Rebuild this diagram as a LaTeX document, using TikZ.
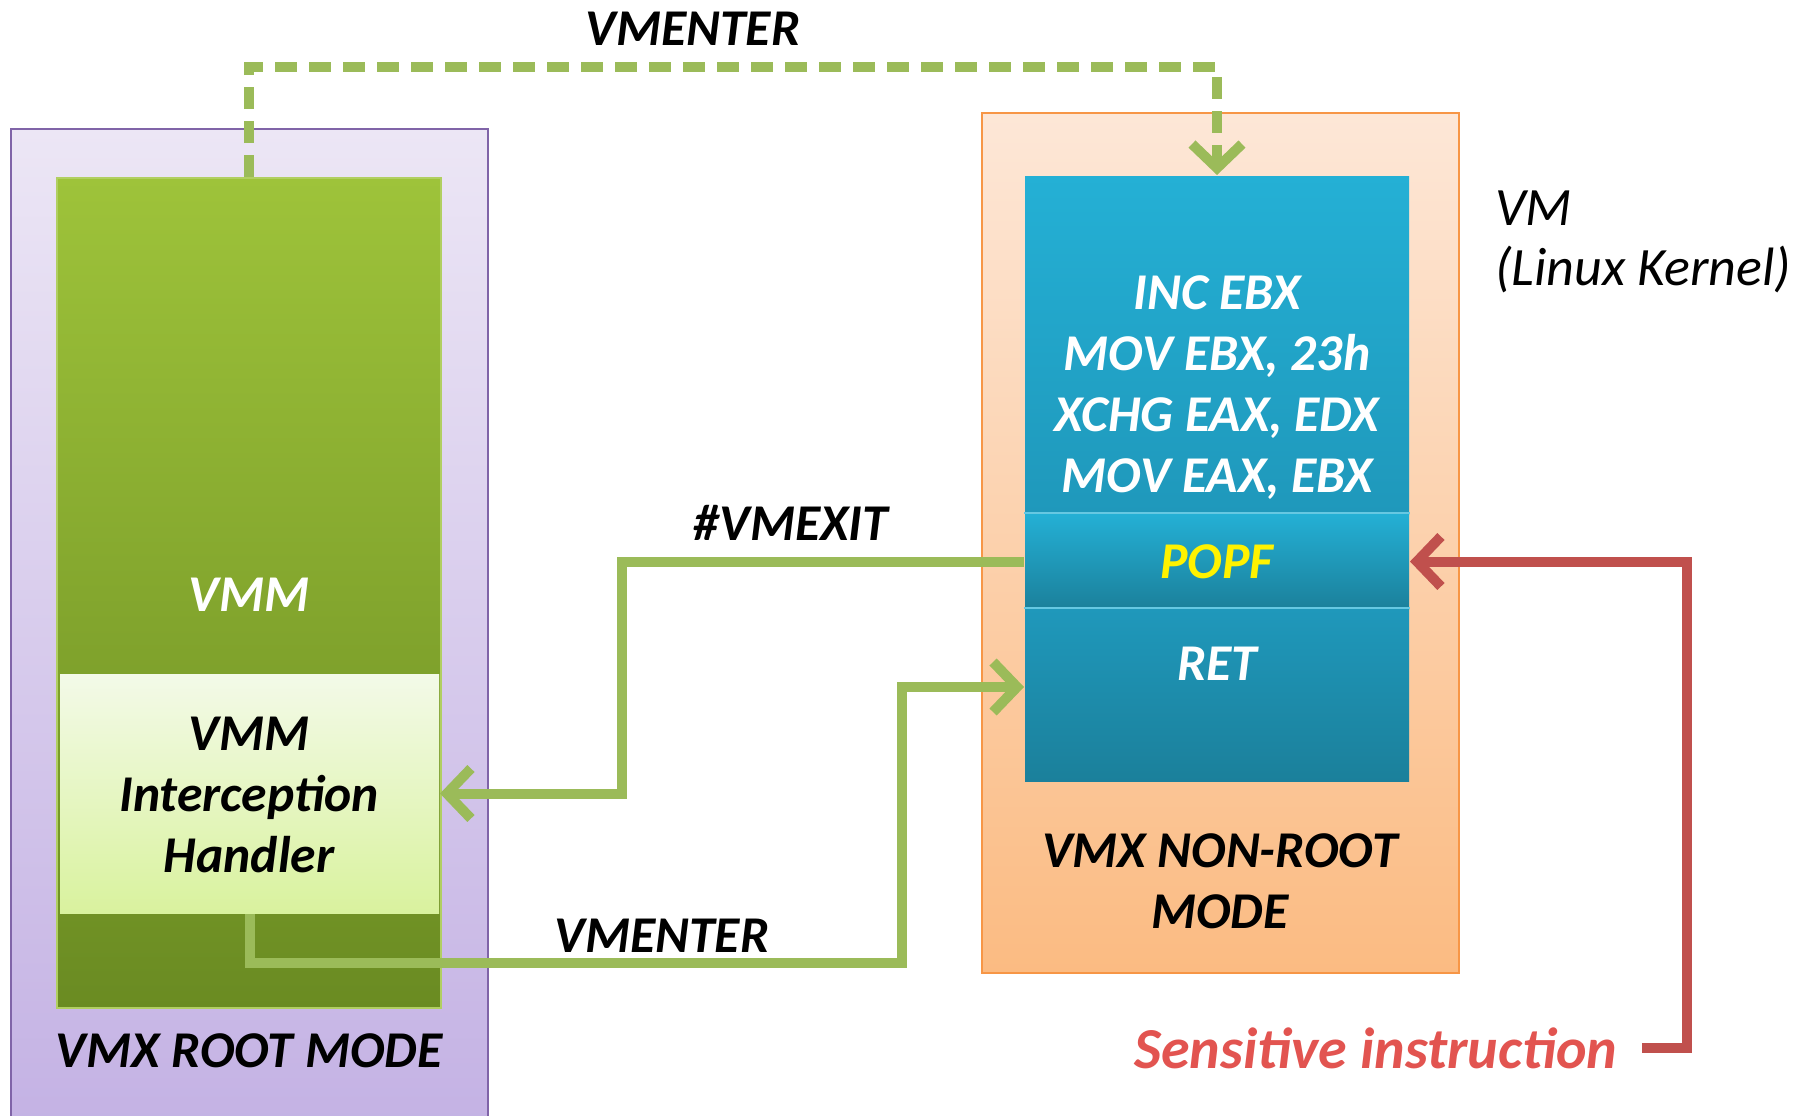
\documentclass[tikz,border=0pt]{standalone}
\usepackage{fontspec}
\setmainfont{Carlito}
\usetikzlibrary{arrows.meta,positioning,fit,calc}
\definecolor{roottop}{RGB}{236,230,245}
\definecolor{rootbot}{RGB}{196,178,228}
\definecolor{rootline}{RGB}{128,100,168}
\definecolor{vmmtop}{RGB}{158,195,58}
\definecolor{vmmbot}{RGB}{106,139,34}
\definecolor{hndtop}{RGB}{243,250,232}
\definecolor{hndbot}{RGB}{217,242,158}
\definecolor{vmtop}{RGB}{253,231,215}
\definecolor{vmbot}{RGB}{251,187,130}
\definecolor{vmline}{RGB}{247,150,70}
\definecolor{cpulight}{RGB}{36,176,213}
\definecolor{cpumid}{RGB}{31,152,187}
\definecolor{cpudark}{RGB}{27,128,155}
\definecolor{flow}{RGB}{155,187,89}
\definecolor{trap}{RGB}{192,80,77}
\definecolor{sens}{RGB}{226,84,80}

\begin{document}
\begin{tikzpicture}[x=0.5pt, y=-0.5pt, >={Straight Barb[length=12pt,width=25pt]},
  box/.style={draw, inner sep=0pt, line width=1pt},
  lbl/.style={font=\fontsize{25.8}{30.5}\selectfont\bfseries\itshape, align=center},
  flowline/.style={->, flow, line width=5pt, line join=miter}]
\useasboundingbox (0,0) rectangle (1802,1115);

% mode frames
\node(root)[box, draw=rootline, top color=roottop, bottom color=rootbot, fit={(11,129) (488,1125)}]{};
\node(nonroot)[box, draw=vmline, top color=vmtop, bottom color=vmbot, fit={(982,113) (1459,973)}]{};

% VMM side
\node(vmm)[box, draw=vmmtop!80!white, top color=vmmtop, bottom color=vmmbot, fit={(57,178) (441,1008)}]{};
\node(handler)[box, draw=none, top color=hndtop, bottom color=hndbot, fit={(60,674) (439,913)}]{};
\node(vmmtext)[lbl, text=white] at (249,595) {VMM};
\node(hndtext)[lbl] at (249,795) {VMM\\Interception\\Handler};
\node(roottext)[lbl] at (249,1051) {VMX ROOT MODE};

% guest code
\node(instr)[box, draw=none, top color=cpulight, bottom color=cpumid, fit={(1025,176) (1409,514)}]{};
\node(popf)[box, draw=none, top color=cpulight, bottom color=cpudark, fit={(1025,514) (1409,609)}]{};
\node(ret)[box, draw=none, top color=cpumid, bottom color=cpudark, fit={(1025,609) (1409,781)}]{};
\draw[cpulight!70!white, line width=1pt] (popf.north west) -- (popf.north east);
\draw[cpulight!70!white, line width=1pt] (ret.north west) -- (ret.north east);
\node(instrtext)[lbl, text=white] at (1217,388) {INC EBX\\MOV EBX, 23h\\XCHG EAX, EDX\\MOV EAX, EBX};
\node(popftext)[lbl, text=yellow] at (popf) {POPF};
\node(rettext)[lbl, text=white] at (1217,664) {RET};
\node(nonroottext)[lbl] at (1220,881) {VMX NON-ROOT\\MODE};
\node(vmname)[anchor=west, align=left, font=\fontsize{27}{30}\selectfont\itshape] at (1488,242) {VM\\(Linux Kernel)};

% transitions
\coordinate(toprow) at (0,67);
\coordinate(exitcol) at (622,0);
\coordinate(entercol) at (902,0);
\coordinate(enterrow) at (0,963);
\coordinate(retin) at (0,687);
\coordinate(trapcol) at (1687,0);

\node(entertop)[lbl] at (693,29) {VMENTER};
\node(exitlbl)[lbl] at (791,523) {\#VMEXIT};
\node(enterlbl)[lbl] at (662,936) {VMENTER};
\node(senslbl)[font=\fontsize{29}{32}\selectfont\bfseries\itshape, text=sens, inner xsep=12pt] at (1376,1048) {Sensitive instruction};

\draw[flowline, dash pattern=on 11pt off 6pt] (vmm.north) -- (vmm.north |- toprow) -| (instr.north);
\draw[flowline] (popf.west) -- (popf.west -| exitcol) |- (handler.east);
\draw[flowline] (handler.south) |- (entercol |- enterrow) |- (instr.west |- retin);
\draw[->, trap, line width=5pt, line join=miter] (senslbl.east) -- (senslbl.east -| trapcol) |- (popf.east);
\end{tikzpicture}
\end{document}
